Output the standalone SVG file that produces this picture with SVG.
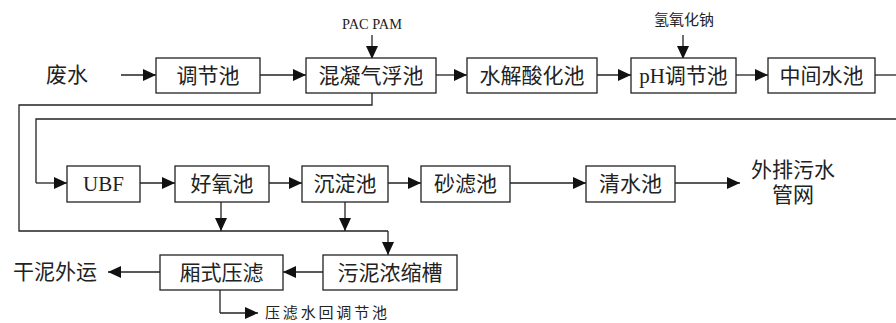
<svg xmlns="http://www.w3.org/2000/svg" width="896" height="323" viewBox="0 0 896 323">
<style>
.box{fill:#fff;stroke:#222;stroke-width:1.3}
.t{font-family:"Liberation Serif","Noto Sans CJK SC",serif;font-size:21px;fill:#222;text-anchor:middle;dominant-baseline:central}
.s{font-family:"Liberation Serif","Noto Sans CJK SC",serif;font-size:15px;fill:#222;text-anchor:middle;dominant-baseline:central}
.ln{fill:none;stroke:#222;stroke-width:1.3}
.ar{fill:none;stroke:#222;stroke-width:1.3;marker-end:url(#ah)}
</style>
<defs>
<marker id="ah" markerUnits="userSpaceOnUse" markerWidth="14" markerHeight="12" refX="13" refY="6" orient="auto">
<path d="M0,0 L13,6 L0,12 Z" fill="#111"/>
</marker>
</defs>
<rect width="896" height="323" fill="#fff"/>
<g id="connectors">
<path class="ar" d="M121,75 H156"/>
<path class="ar" d="M260,75 H306"/>
<path class="ar" d="M372,35 V59"/>
<path class="ar" d="M436,75 H467"/>
<path class="ar" d="M597,75 H631"/>
<path class="ar" d="M683,35 V59"/>
<path class="ar" d="M736,75 H768"/>
<path class="ln" d="M875,75 H896"/>
<path class="ln" d="M896,119 H36 V183"/>
<path class="ar" d="M36,183 H67"/>
<path class="ar" d="M140,183 H175"/>
<path class="ar" d="M269,183 H302"/>
<path class="ar" d="M388,183 H421"/>
<path class="ar" d="M510,183 H586"/>
<path class="ar" d="M675,183 H740"/>
<path class="ln" d="M372,93 V105 H19 V231 H388"/>
<path class="ar" d="M388,231 V255"/>
<path class="ar" d="M221,202 V231"/>
<path class="ar" d="M345,202 V231"/>
<path class="ar" d="M323,272 H283"/>
<path class="ar" d="M160,272 H108"/>
<path class="ln" d="M220,290 V313"/>
<path class="ar" d="M220,313 H258"/>
</g>
<g id="feishui"><text class="t" x="67" y="75">废水</text></g>
<g id="tiaojiechi"><rect class="box" x="156" y="58" width="104" height="35"/><text class="t" x="208" y="75.5">调节池</text></g>
<g id="pacpam"><text class="s" x="372" y="24" textLength="60" lengthAdjust="spacingAndGlyphs">PAC PAM</text></g>
<g id="hunning"><rect class="box" x="306" y="58" width="130" height="35"/><text class="t" x="371" y="75.5">混凝气浮池</text></g>
<g id="shuijie"><rect class="box" x="467" y="58" width="130" height="35"/><text class="t" x="532" y="75.5">水解酸化池</text></g>
<g id="naoh"><text class="s" x="684" y="20">氢氧化钠</text></g>
<g id="ph"><rect class="box" x="631" y="58" width="105" height="35"/><text class="t" x="683.5" y="75.5">pH调节池</text></g>
<g id="zhongjian"><rect class="box" x="768" y="58" width="107" height="35"/><text class="t" x="821.5" y="75.5">中间水池</text></g>
<g id="ubf"><rect class="box" x="67" y="166" width="73" height="36"/><text class="t" x="103.5" y="184">UBF</text></g>
<g id="haoyang"><rect class="box" x="175" y="166" width="94" height="36"/><text class="t" x="222" y="184">好氧池</text></g>
<g id="chendian"><rect class="box" x="302" y="166" width="86" height="36"/><text class="t" x="345" y="184">沉淀池</text></g>
<g id="shalv"><rect class="box" x="421" y="166" width="89" height="36"/><text class="t" x="465.5" y="184">砂滤池</text></g>
<g id="qingshui"><rect class="box" x="586" y="166" width="89" height="36"/><text class="t" x="630.5" y="184">清水池</text></g>
<g id="waipai"><text class="t" x="793" y="170">外排污水</text><text class="t" x="793" y="195">管网</text></g>
<g id="wuni"><rect class="box" x="323" y="255" width="134" height="35"/><text class="t" x="390" y="272.5">污泥浓缩槽</text></g>
<g id="xiangshi"><rect class="box" x="160" y="255" width="123" height="35"/><text class="t" x="221.5" y="272.5">厢式压滤</text></g>
<g id="ganni"><text class="t" x="55" y="272">干泥外运</text></g>
<g id="yalvshui"><text class="s" x="326" y="313" textLength="122">压滤水回调节池</text></g>
</svg>
